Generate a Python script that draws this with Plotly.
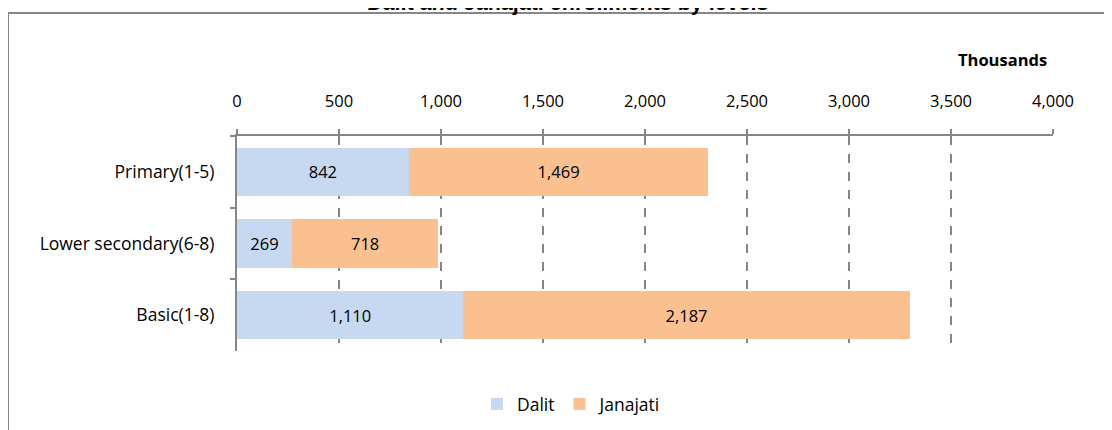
import plotly.graph_objects as go

# enrolments in thousands
levels = ['Primary(1-5)', 'Lower secondary(6-8)', 'Basic(1-8)']
dalit = [842, 269, 1110]
janajati = [1469, 718, 2187]
x_ticks = [0, 500, 1000, 1500, 2000, 2500, 3000, 3500, 4000]

W, H = 1112, 430
OX, OY = 8, 8  # page body margin
L, R, T, B = 237 - OX, 59 + OX, 136 - OY, 79 + OY
pw, ph = W - L - R, H - T - B

def px(x):
    return (x - OX - L) / pw

def py(y):
    return (H - B - (y - OY)) / ph

lbl_font = dict(family='Open Sans, sans-serif', size=17.5, color='#000000')
num_font = dict(family='Open Sans, sans-serif', size=16.5, color='#000000')

fig = go.Figure()
fig.add_trace(go.Bar(
    y=levels, x=dalit, name='Dalit', orientation='h',
    marker=dict(color='#C6D9F1', line=dict(width=0)),
    text=[f'{v:,}' for v in dalit], textposition='inside',
    insidetextanchor='middle', textfont=num_font,
))
fig.add_trace(go.Bar(
    y=levels, x=janajati, name='Janajati', orientation='h',
    marker=dict(color='#FAC090', line=dict(width=0)),
    text=[f'{v:,}' for v in janajati], textposition='inside',
    insidetextanchor='middle', textfont=num_font,
))

fig.update_layout(
    width=W, height=H,
    margin=dict(l=L, r=R, t=T, b=B, autoexpand=False),
    barmode='stack',
    bargap=0.33,
    plot_bgcolor='white',
    paper_bgcolor='white',
    font=lbl_font,
    xaxis=dict(
        side='top', range=[0, 4000], tickvals=x_ticks, automargin=False,
        tickformat=',d', showline=True, linecolor='#868686', linewidth=2,
        ticks='outside', ticklen=5, tickcolor='#868686', tickwidth=2,
        ticklabelstandoff=15,
        showgrid=True, gridcolor='#868686', griddash='dash', gridwidth=1.5,
        zeroline=False, tickfont=num_font,
    ),
    yaxis=dict(
        autorange='reversed', showline=True, linecolor='#868686', linewidth=2,
        ticks='outside', ticklen=5, tickcolor='#868686', tickwidth=2, automargin=False,
        tickson='boundaries', showgrid=False, ticklabelstandoff=17,
        tickfont=lbl_font,
    ),
    legend=dict(
        orientation='h', x=px(572), xanchor='center', y=py(404), yanchor='middle',
        font=lbl_font, traceorder='normal',
    ),
    showlegend=True,
)

# chart title, partly above the top edge as in the source
fig.add_annotation(
    text='<b>Dalit and Janajati enrollments by levels</b>',
    x=px(568), y=py(17), xref='paper', yref='paper', xanchor='center', yanchor='bottom',
    showarrow=False,
    font=dict(family='Liberation Sans Narrow, Liberation Sans, Arial', size=21.5, color='#000000'),
)

fig.add_annotation(
    text='<b>Thousands</b>', x=px(1002), y=py(59), xref='paper', yref='paper',
    xanchor='center', yanchor='middle',
    showarrow=False, font=dict(family='Open Sans, sans-serif', size=16.5, color='#000000'),
)

# outer chart-area border, clipped by the page on the right and bottom
fig.add_shape(
    type='rect', xref='paper', yref='paper',
    x0=px(8), x1=px(1130), y0=py(13), y1=py(450),
    line=dict(color='#868686', width=2), fillcolor='rgba(0,0,0,0)', layer='below',
)

fig.write_html('out.html')
